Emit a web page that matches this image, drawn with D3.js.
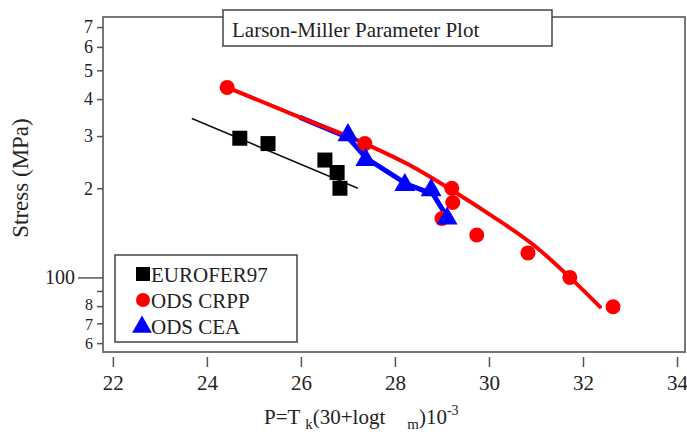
<!DOCTYPE html>
<html>
<head>
<meta charset="utf-8">
<script src="https://cdn.jsdelivr.net/npm/d3@7"></script>
<style>
  body { margin: 0; background: #fff; }
  svg { display: block; }
  text { font-family: "Liberation Serif", "Times New Roman", serif; fill: #222; }
</style>
</head>
<body>
<div id="container"></div>
<script>
const width = 687;
const height = 443;

// EUROFER97 measured points + fit
const euroP = [24.70, 25.30, 26.51, 26.77, 26.83];
const euroS = [295, 283, 249, 226, 200];
const euroFitP = [23.68, 27.21];
const euroFitS = [344, 200];

// ODS CRPP
const crppP = [24.43, 27.36, 29.21, 29.23, 29.00, 29.74, 30.83, 31.72, 32.64];
const crppS = [438, 283, 200, 179, 158, 139, 121, 100, 79.6];
const crppFitP = [24.43, 25.98, 27.36, 28.32, 29.21, 30.02, 31.02, 31.72, 32.36];
const crppFitS = [438, 347, 283, 239, 197, 163, 126, 100, 79.6];

// ODS CEA
const ceaP = [27.00, 27.38, 28.21, 28.77, 29.11];
const ceaS = [302, 249, 205, 197, 158];
const ceaFitP = [25.98, 27.00, 27.40, 28.26, 28.81, 29.13];
const ceaFitS = [347, 297, 252, 206, 191, 158];

// axes
const xTicks = [22, 24, 26, 28, 30, 32, 34];
const yTicks = [60, 70, 80, 90, 100, 200, 300, 400, 500, 600, 700];
const yTickLabels = ["6", "7", "8", "", "100", "2", "3", "4", "5", "6", "7"];

const legendNames = ["EUROFER97", "ODS CRPP", "ODS CEA"];

const plot = { left: 103, right: 685, top: 17, bottom: 352 };

const x = d3.scaleLinear().domain([21.79, 34.17]).range([plot.left, plot.right]);
const y = d3.scaleLog().domain([56, 757]).range([plot.bottom, plot.top]);

const svg = d3.select("#container").append("svg")
  .attr("width", width)
  .attr("height", height);

// frame
svg.append("rect")
  .attr("x", plot.left).attr("y", plot.top)
  .attr("width", plot.right - plot.left)
  .attr("height", plot.bottom - plot.top)
  .attr("fill", "none")
  .attr("stroke", "#777")
  .attr("stroke-width", 2);

// y axis
const yAxis = svg.append("g")
  .attr("transform", `translate(${plot.left},0)`)
  .call(d3.axisLeft(y)
    .tickValues(yTicks)
    .tickSize(6)
    .tickPadding(4)
    .tickFormat((d, i) => yTickLabels[i]));
yAxis.select(".domain").remove();
yAxis.selectAll(".tick line").attr("stroke", "#555").attr("stroke-width", 1.5);
yAxis.selectAll(".tick").filter(d => d === 100).select("line").attr("x2", -25);
yAxis.selectAll(".tick").filter(d => d === 100).select("text").attr("x", -28);
yAxis.selectAll(".tick text").style("font-size", "18px").style("font-family", "Liberation Serif").attr("fill", "#333");
yAxis.selectAll(".tick").filter(d => d === 100).select("text").style("font-size", "20px");
// crowded low-decade labels: a touch smaller, nudged apart
yAxis.selectAll(".tick").filter(d => d < 100).select("text").style("font-size", "16px");
yAxis.selectAll(".tick").filter(d => d === 80).select("text").attr("dy", "0.2em");
yAxis.selectAll(".tick").filter(d => d === 70).select("text").attr("dy", "0.4em");

// x axis (offset below the frame)
const xAxis = svg.append("g")
  .attr("transform", `translate(0,${plot.bottom + 5})`)
  .call(d3.axisBottom(x)
    .tickValues(xTicks)
    .tickSize(10)
    .tickPadding(8)
    .tickFormat(d3.format("d")));
xAxis.select(".domain").remove();
xAxis.selectAll(".tick line").attr("stroke", "#555").attr("stroke-width", 1.5);
xAxis.selectAll(".tick text").style("font-size", "21px").style("font-family", "Liberation Serif").attr("fill", "#333");

// axis labels
svg.append("text")
  .attr("transform", `translate(28,178) rotate(-90)`)
  .attr("text-anchor", "middle")
  .style("font-size", "23px")
  .text("Stress (MPa)");

const xl = svg.append("text")
  .attr("x", 264).attr("y", 424)
  .style("font-size", "21px");
xl.append("tspan").text("P=T ");
xl.append("tspan").attr("dy", 5).style("font-size", "15px").text("k");
xl.append("tspan").attr("dy", -5).text("(30+logt");
xl.append("tspan").attr("dx", 22).attr("dy", 5).style("font-size", "15px").text("m");
xl.append("tspan").attr("dy", -5).text(")10");
xl.append("tspan").attr("dy", -9).style("font-size", "14px").text("-3");

// data
const euro = euroP.map((p, i) => ({ p: p, s: euroS[i] }));
const euroFit = euroFitP.map((p, i) => ({ p: p, s: euroFitS[i] }));
const crpp = crppP.map((p, i) => ({ p: p, s: crppS[i] }));
const crppFit = crppFitP.map((p, i) => ({ p: p, s: crppFitS[i] }));
const cea = ceaP.map((p, i) => ({ p: p, s: ceaS[i] }));
const ceaFit = ceaFitP.map((p, i) => ({ p: p, s: ceaFitS[i] }));

const line = d3.line().x(d => x(d.p)).y(d => y(d.s));
const smooth = d3.line().x(d => x(d.p)).y(d => y(d.s)).curve(d3.curveMonotoneX);

const sq = 15;
const triSym = d3.symbol().type(d3.symbolTriangle).size(190);

// EUROFER97
svg.append("path").datum(euroFit)
  .attr("d", line).attr("fill", "none")
  .attr("stroke", "#111").attr("stroke-width", 1.5);
svg.append("g").selectAll("rect").data(euro).join("rect")
  .attr("x", d => x(d.p) - sq / 2).attr("y", d => y(d.s) - sq / 2)
  .attr("width", sq).attr("height", sq).attr("fill", "#000");

// ODS CEA line underneath, then red, then triangles
svg.append("path").datum(ceaFit)
  .attr("d", line).attr("fill", "none")
  .attr("stroke", "#00f").attr("stroke-width", 5).attr("stroke-linejoin", "round");

// ODS CRPP
svg.append("path").datum(crppFit)
  .attr("d", smooth).attr("fill", "none")
  .attr("stroke", "#f00").attr("stroke-width", 4).attr("stroke-linecap", "round");
svg.append("g").selectAll("circle").data(crpp).join("circle")
  .attr("cx", d => x(d.p)).attr("cy", d => y(d.s)).attr("r", 7.5)
  .attr("fill", "#f00");

svg.append("g").selectAll("path").data(cea).join("path")
  .attr("transform", d => `translate(${x(d.p)},${y(d.s)})`)
  .attr("d", triSym).attr("fill", "#00f");

// title box
const tb = svg.append("g");
tb.append("rect")
  .attr("x", 223).attr("y", 10).attr("width", 329).attr("height", 36)
  .attr("fill", "#fff").attr("stroke", "#444").attr("stroke-width", 1.5);
tb.append("text")
  .attr("x", 232).attr("y", 37)
  .style("font-size", "21px")
  .text("Larson-Miller Parameter Plot");

// legend
const lg = svg.append("g");
lg.append("rect")
  .attr("x", 115).attr("y", 255).attr("width", 182).attr("height", 87)
  .attr("fill", "#fff").attr("stroke", "#444").attr("stroke-width", 1.5);
const rowY = [274, 300, 326];
lg.append("rect").attr("x", 136).attr("y", rowY[0] - 7).attr("width", 14).attr("height", 14).attr("fill", "#000");
lg.append("circle").attr("cx", 143).attr("cy", rowY[1]).attr("r", 7).attr("fill", "#f00");
lg.append("path").attr("transform", `translate(142,${rowY[2] + 1})`)
  .attr("d", d3.symbol().type(d3.symbolTriangle).size(170)).attr("fill", "#00f");
lg.selectAll("text.lab").data(legendNames).join("text")
  .attr("class", "lab")
  .attr("x", 151).attr("y", (d, i) => rowY[i] + 8)
  .style("font-size", "21px")
  .text(d => d);
</script>
</body>
</html>
